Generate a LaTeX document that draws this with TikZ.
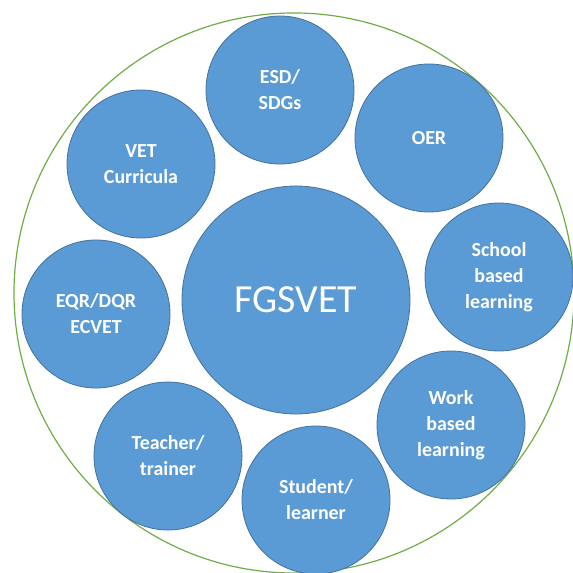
\documentclass[tikz,border=0pt]{standalone}
\usepackage{fontspec}
\setmainfont{Carlito}
\definecolor{bubblefill}{RGB}{91,155,213}
\definecolor{bubbleline}{RGB}{65,113,156}
\definecolor{ringgreen}{RGB}{112,173,71}

\begin{document}
\begin{tikzpicture}[x=1bp, y=-1bp,
    bubble/.style={circle, fill=bubblefill, draw=bubbleline, line width=0.8bp,
        minimum size=148bp, inner sep=0pt, text=white, align=center,
        font=\fontsize{20}{26}\selectfont\bfseries},
    hub/.style={bubble, minimum size=228bp, font=\fontsize{40}{48}\selectfont}]
    \useasboundingbox (0,0) rectangle (573,573);

    % Outer ring
    \draw[ringgreen, line width=1.2bp] (294,293) circle (280bp);

    % Centre
    \node[hub] (fgsvet) at (296,300) {FGSVET};

    % Topics round the centre
    \node[bubble] (esd) at (280,90) {ESD/\\SDGs};
    \node[bubble] (oer) at (429,138) {OER};
    \node[bubble] (vet) at (141,164) {VET\\Curricula};
    \node[bubble] (school) at (499,277) {School\\based\\learning};
    \node[bubble] (eqr) at (96,314) {EQR/DQR\\ECVET};
    \node[bubble] (work) at (451,425) {Work\\based\\learning};
    \node[bubble] (teacher) at (168,456) {Teacher/\\trainer};
    \node[bubble] (student) at (316,500) {Student/\\learner};
\end{tikzpicture}
\end{document}
